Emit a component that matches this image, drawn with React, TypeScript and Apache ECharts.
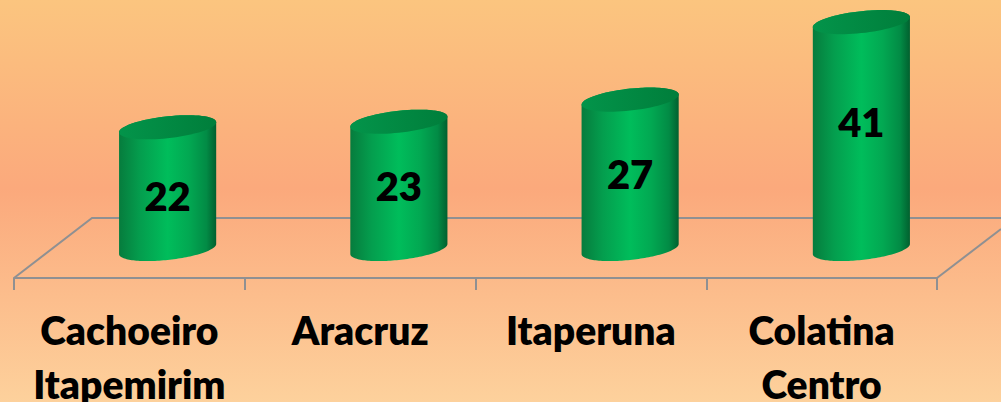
import React, { useEffect, useRef } from "react";
import * as echarts from "echarts";

const categories = ["Cachoeiro\nItapemirim", "Aracruz", "Itaperuna", "Colatina\nCentro"];
const values = [22, 23, 27, 41];
const labelShift = [8, 1, 0, -14];

const FONT = "Lato, Carlito, sans-serif";
const GREY = "#8f9092";

function ellipsePoints(cx: number, cy: number, a: number, b: number, s: number, from = 0, to = Math.PI * 2) {
  const pts: number[][] = [];
  const n = 72;
  for (let i = 0; i <= n; i++) {
    const t = from + ((to - from) * i) / n;
    pts.push([cx + a * Math.cos(t), cy + b * Math.sin(t) - s * Math.cos(t)]);
  }
  return pts;
}

const bodyFill = new echarts.graphic.LinearGradient(0, 0, 1, 0, [
  { offset: 0, color: "#067c3d" },
  { offset: 0.22, color: "#049e4e" },
  { offset: 0.5, color: "#00bd5b" },
  { offset: 0.72, color: "#02a852" },
  { offset: 0.9, color: "#028b45" },
  { offset: 1, color: "#01602f" },
]);
const topFill = new echarts.graphic.LinearGradient(0, 0, 1, 0, [
  { offset: 0, color: "#03944a" },
  { offset: 1, color: "#007e3b" },
]);

const renderCylinder = (params: any, api: any) => {
  const idx = api.value(0);
  const v = api.value(1);
  const base = api.coord([idx, 0]);
  const tip = api.coord([idx, v]);
  const mid = api.coord([idx, v / 2]);
  const w = api.size([1, 0])[0] * 0.42;
  const a = w / 2;
  const b = w * 0.113;
  const s = w * 0.052;
  const cx = base[0];
  const body = [
    ...ellipsePoints(cx, tip[1], a, b, s, Math.PI, 2 * Math.PI),
    ...ellipsePoints(cx, base[1], a, b, s, 0, Math.PI),
  ];
  return {
    type: "group",
    children: [
      { type: "polygon", shape: { points: body }, style: { fill: bodyFill } },
      { type: "polygon", shape: { points: ellipsePoints(cx, tip[1], a, b, s) }, style: { fill: topFill } },
      {
        type: "text",
        x: cx,
        y: mid[1] + labelShift[idx],
        style: {
          text: String(v),
          fill: "#000",
          font: `800 40px ${FONT}`,
          align: "center",
          verticalAlign: "middle",
        },
      },
    ],
  };
};

export default function App() {
  const ref = useRef<HTMLDivElement>(null);
  useEffect(() => {
    const chart = echarts.init(ref.current!, null, { renderer: "svg" });
    chart.setOption({
      animation: false,
      backgroundColor: new echarts.graphic.LinearGradient(0, 0, 0, 1, [
        { offset: 0, color: "#fbc57f" },
        { offset: 0.47, color: "#fba97c" },
        { offset: 1, color: "#fdd19c" },
      ]),
      grid: [
        { left: 14, width: 923, top: 218, height: 60, outerBoundsMode: "none" },
        { left: 52, width: 925, top: 0, height: 249, outerBoundsMode: "none" },
      ],
      xAxis: [
        {
          type: "category",
          gridIndex: 0,
          data: categories,
          axisLine: { show: true, onZero: false, lineStyle: { color: GREY, width: 2 } },
          axisTick: { show: true, interval: 0, alignWithLabel: false, length: 12, lineStyle: { color: GREY, width: 2 } },
          axisLabel: {
            margin: 25,
            interval: 0,
            color: "#000",
            fontFamily: FONT,
            fontWeight: 800,
            fontSize: 39,
            lineHeight: 54,
            verticalAlign: "top",
          },
        },
        { type: "category", gridIndex: 1, data: categories, show: false },
      ],
      yAxis: [
        { type: "value", gridIndex: 0, min: 0, max: 1, show: false },
        { type: "value", gridIndex: 1, min: 0, max: 45, show: false },
      ],
      graphic: [
        {
          type: "polyline",
          z: 0,
          shape: { points: [[14, 278], [92, 218], [1001, 218]] },
          style: { stroke: GREY, lineWidth: 2, fill: "none" },
        },
        {
          type: "line",
          z: 0,
          shape: { x1: 937, y1: 278, x2: 1001, y2: 229 },
          style: { stroke: GREY, lineWidth: 2 },
        },
      ],
      series: [
        {
          type: "custom",
          xAxisIndex: 1,
          yAxisIndex: 1,
          z: 5,
          clip: false,
          data: values.map((v, i) => [i, v]),
          encode: { x: 0, y: 1 },
          renderItem: renderCylinder,
        },
      ],
    });
    return () => chart.dispose();
  }, []);
  return <div ref={ref} style={{ position: "fixed", left: 0, top: 0, width: 1001, height: 402 }} />;
}
